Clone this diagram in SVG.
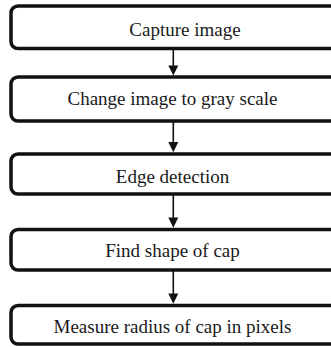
<svg xmlns="http://www.w3.org/2000/svg" width="331" height="347" viewBox="0 0 331 347">
<style>
.box{fill:#fff;stroke:#111;stroke-width:3.5}
.lbl{font-family:"Liberation Serif","Times New Roman",serif;font-size:19px;fill:#1a1a1a;text-anchor:middle}
.ln{stroke:#111;stroke-width:1.6;fill:none}
.ah{fill:#111}
</style>
<rect width="331" height="347" fill="#fff"/>
<g id="connectors">
<line class="ln" x1="173.3" y1="48.5" x2="173.3" y2="68"/><polygon class="ah" points="168.3,65.5 178.3,65.5 173.3,75.5"/>
<line class="ln" x1="173.3" y1="121" x2="173.3" y2="145"/><polygon class="ah" points="168.3,142 178.3,142 173.3,152.2"/>
<line class="ln" x1="173.3" y1="194" x2="173.3" y2="220"/><polygon class="ah" points="168.3,217.5 178.3,217.5 173.3,227.7"/>
<line class="ln" x1="173.3" y1="270" x2="173.3" y2="296"/><polygon class="ah" points="168.3,293.5 178.3,293.5 173.3,303.7"/>
</g>
<g id="n1"><rect class="box" x="11" y="6" width="345" height="42.5" rx="7"/><text class="lbl" x="185" y="36">Capture image</text></g>
<g id="n2"><rect class="box" x="11" y="77" width="345" height="44" rx="7"/><text class="lbl" x="172.5" y="105">Change image to gray scale</text></g>
<g id="n3"><rect class="box" x="11" y="154" width="345" height="40" rx="7"/><text class="lbl" x="172.5" y="183">Edge detection</text></g>
<g id="n4"><rect class="box" x="11" y="229.5" width="345" height="40.5" rx="7"/><text class="lbl" x="172.5" y="257">Find shape of cap</text></g>
<g id="n5"><rect class="box" x="11" y="305.5" width="345" height="38.5" rx="7"/><text class="lbl" x="172.5" y="333">Measure radius of cap in pixels</text></g>
</svg>
